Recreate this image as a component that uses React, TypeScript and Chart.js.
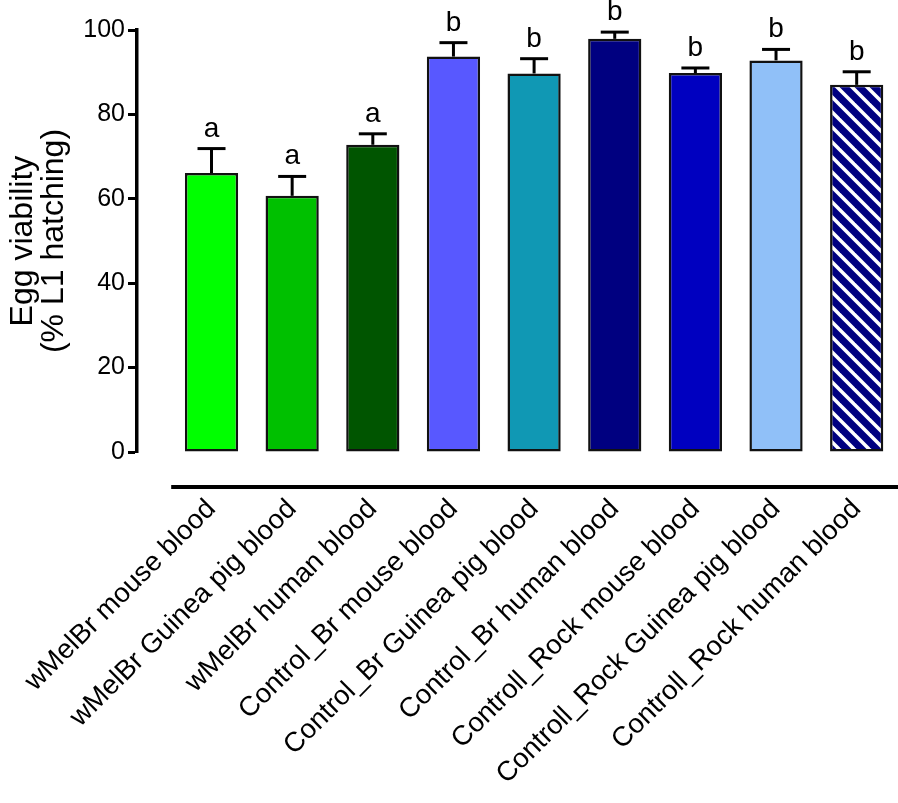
import { useEffect, useRef } from 'react';
import { Chart, registerables } from 'chart.js';

Chart.register(...registerables);

const categories = [
  'wMelBr mouse blood',
  'wMelBr Guinea pig blood',
  'wMelBr human blood',
  'Control_Br mouse blood',
  'Control_Br Guinea pig blood',
  'Control_Br human blood',
  'Controll_Rock mouse blood',
  'Controll_Rock Guinea pig blood',
  'Controll_Rock human blood',
];
const meanValues = [66.1, 60.7, 72.8, 93.7, 89.7, 97.9, 89.8, 92.8, 87.0];
const semValues = [5.8, 4.6, 2.6, 3.3, 3.5, 1.6, 1.2, 2.6, 3.1];
const groupLetters = ['a', 'a', 'a', 'b', 'b', 'b', 'b', 'b', 'b'];
const barColors = ['#00FF00', '#00C000', '#005500', '#5858FF', '#1098B4', '#000080', '#0000C0', '#90C0F8', 'hatch'];
const yTickValues = [0, 20, 40, 60, 80, 100];
const yTitleLines = ['Egg viability', '(% L1 hatching)'];

const FONT = "'Liberation Sans', Arial, Helvetica, sans-serif";

function makeHatch(): CanvasPattern | string {
  const s = 15;
  const c = document.createElement('canvas');
  c.width = s;
  c.height = s;
  const ctx = c.getContext('2d');
  if (!ctx) return '#000080';
  ctx.fillStyle = '#000080';
  ctx.fillRect(0, 0, s, s);
  ctx.strokeStyle = '#FFFFFF';
  ctx.lineWidth = 3.5;
  for (let k = -1; k <= 1; k++) {
    ctx.beginPath();
    ctx.moveTo(k * s - 2, -2);
    ctx.lineTo(k * s + s + 2, s + 2);
    ctx.stroke();
  }
  const p = ctx.createPattern(c, 'repeat');
  return p || '#000080';
}

const errorBarPlugin = {
  id: 'errorBars',
  afterDatasetsDraw(chart: any) {
    const { ctx, scales } = chart;
    const xs = scales.x;
    const ys = scales.y;
    ctx.save();
    ctx.strokeStyle = '#000';
    ctx.fillStyle = '#000';
    meanValues.forEach((m, i) => {
      const x = xs.getPixelForValue(i);
      const yTop = ys.getPixelForValue(m);
      const yErr = ys.getPixelForValue(m + semValues[i]);
      ctx.lineWidth = 3;
      ctx.beginPath();
      ctx.moveTo(x, yTop);
      ctx.lineTo(x, yErr);
      ctx.stroke();
      ctx.lineWidth = 3;
      ctx.beginPath();
      ctx.moveTo(x - 14, yErr);
      ctx.lineTo(x + 14, yErr);
      ctx.stroke();
      ctx.font = `28px ${FONT}`;
      ctx.textAlign = 'center';
      ctx.textBaseline = 'alphabetic';
      ctx.fillText(groupLetters[i], x, yErr - 12);
    });
    ctx.restore();
  },
};

const baselinePlugin = {
  id: 'baseline',
  afterDraw(chart: any) {
    const { ctx, scales, chartArea } = chart;
    const xs = scales.x;
    const y = chartArea.bottom + 35;
    ctx.save();
    ctx.strokeStyle = '#000';
    ctx.lineWidth = 4;
    ctx.beginPath();
    ctx.moveTo(xs.getPixelForValue(-0.5), y);
    ctx.lineTo(chartArea.right + 2, y);
    ctx.stroke();
    ctx.restore();
  },
};

export default function App() {
  const ref = useRef<HTMLCanvasElement | null>(null);

  useEffect(() => {
    if (!ref.current) return;
    const hatch = makeHatch();
    const bg = barColors.map((c) => (c === 'hatch' ? hatch : c));
    const chart = new Chart(ref.current, {
      type: 'bar',
      data: {
        datasets: [
          {
            data: meanValues.map((v, i) => ({ x: i, y: v })),
            backgroundColor: bg as any,
            borderColor: '#111',
            borderWidth: 2.5,
            borderSkipped: false,
            categoryPercentage: 1,
            barPercentage: 0.66,
          },
        ],
      },
      options: {
        animation: false,
        responsive: true,
        maintainAspectRatio: false,
        layout: { padding: { top: 30, right: 1, left: 0, bottom: 0 } },
        plugins: {
          legend: { display: false },
          tooltip: { enabled: false },
        },
        scales: {
          x: {
            type: 'linear',
            offset: false,
            min: -0.924,
            max: 8.5,
            grid: { display: false, drawTicks: false },
            border: { display: false },
            afterBuildTicks: (scale: any) => {
              scale.ticks = categories.map((_, i) => ({ value: i }));
            },
            afterFit: (scale: any) => {
              scale.height = 351;
              scale.paddingLeft = 0;
              scale.paddingRight = 0;
            },
            ticks: {
              autoSkip: false,
              minRotation: 45,
              maxRotation: 45,
              padding: 41,
              color: '#000',
              font: { family: FONT, size: 27.5 },
              callback: (v: any) => categories[v as number] ?? '',
            },
          },
          y: {
            min: 0,
            max: 100,
            afterBuildTicks: (scale: any) => {
              scale.ticks = yTickValues.map((v) => ({ value: v }));
            },
            afterFit: (scale: any) => {
              scale.width = 137;
            },
            grid: {
              drawOnChartArea: false,
              drawTicks: true,
              tickLength: 9,
              tickWidth: 3,
              color: '#000',
            },
            border: { display: true, color: '#000', width: 3.5 },
            ticks: {
              padding: 3,
              color: '#000',
              font: { family: FONT, size: 25 },
            },
            title: {
              display: true,
              text: yTitleLines,
              color: '#000',
              font: { family: FONT, size: 32, lineHeight: 0.97 },
              padding: { top: 8, bottom: 0 },
            },
          },
        },
      },
      plugins: [errorBarPlugin, baselinePlugin],
    });
    return () => chart.destroy();
  }, []);

  return (
    <div style={{ position: 'absolute', left: 0, top: 0, width: 898, height: 803, background: '#fff' }}>
      <canvas ref={ref} />
    </div>
  );
}
